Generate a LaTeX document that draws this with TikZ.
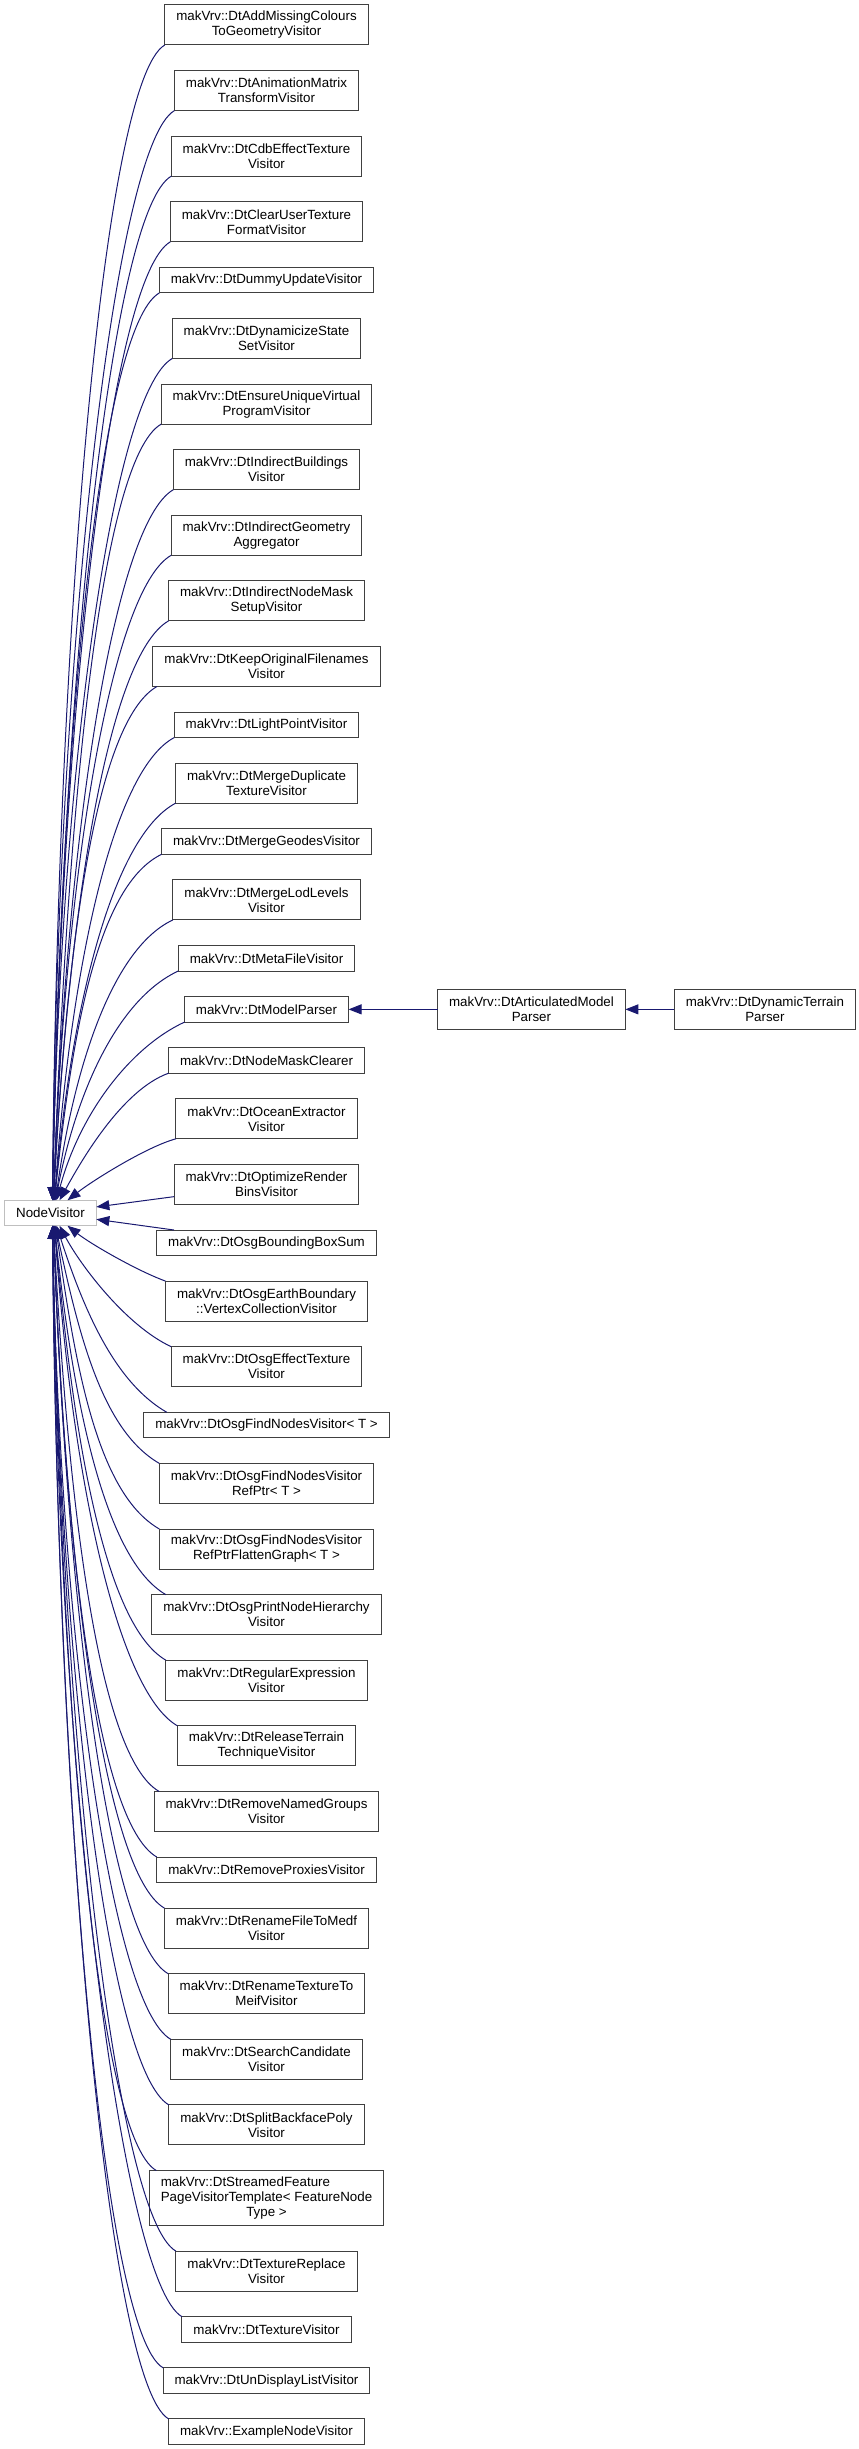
\documentclass[tikz,border=0pt]{standalone}
\usepackage{fontspec}
\setmainfont{Liberation Sans}
\usetikzlibrary{positioning,arrows.meta}
\definecolor{edgeblue}{HTML}{191970}
\definecolor{framegray}{HTML}{404040}
\definecolor{basegray}{HTML}{BFBFBF}
\begin{document}
\begin{tikzpicture}[x=1pt, y=1pt, node distance=25.6pt and 89pt]
\tikzstyle{block} = [rectangle, draw=framegray, fill=white, line width=1pt, outer sep=0pt, minimum height=25.5pt, inner xsep=11.5pt, inner ysep=2pt, align=center, font=\fontsize{13.34}{15}\selectfont]
\tikzstyle{twolines} = [minimum height=40pt]
\tikzstyle{threelines} = [minimum height=55pt]
\tikzstyle{base} = [block, draw=basegray]
\tikzstyle{arrow} = [line width=1pt, draw=edgeblue, -{Triangle[length=13pt, width=10pt]}]
\useasboundingbox (0,0) rectangle (859,-2449);
%
\node (0) [base] at (50.5,-1213) {NodeVisitor};
\node (1) [block, twolines] at (266.5,-25) {makVrv::DtAddMissingColours\\ToGeometryVisitor};
\node (2) [block, twolines, below=of 1]  {makVrv::DtAnimationMatrix\\TransformVisitor};
\node (3) [block, twolines, below=of 2]  {makVrv::DtCdbEffectTexture\\Visitor};
\node (4) [block, twolines, below=of 3]  {makVrv::DtClearUserTexture\\FormatVisitor};
\node (5) [block, below=of 4]            {makVrv::DtDummyUpdateVisitor};
\node (6) [block, twolines, below=of 5]  {makVrv::DtDynamicizeState\\SetVisitor};
\node (7) [block, twolines, below=of 6]  {makVrv::DtEnsureUniqueVirtual\\ProgramVisitor};
\node (8) [block, twolines, below=of 7]  {makVrv::DtIndirectBuildings\\Visitor};
\node (9) [block, twolines, below=of 8]  {makVrv::DtIndirectGeometry\\Aggregator};
\node (10) [block, twolines, below=of 9] {makVrv::DtIndirectNodeMask\\SetupVisitor};
\node (11) [block, twolines, below=of 10] {makVrv::DtKeepOriginalFilenames\\Visitor};
\node (12) [block, below=of 11]           {makVrv::DtLightPointVisitor};
\node (13) [block, twolines, below=of 12] {makVrv::DtMergeDuplicate\\TextureVisitor};
\node (14) [block, below=of 13]           {makVrv::DtMergeGeodesVisitor};
\node (15) [block, twolines, below=of 14] {makVrv::DtMergeLodLevels\\Visitor};
\node (16) [block, below=of 15]           {makVrv::DtMetaFileVisitor};
\node (17) [block, below=of 16]           {makVrv::DtModelParser};
\node (18) [block, below=of 17]           {makVrv::DtNodeMaskClearer};
\node (19) [block, twolines, below=of 18] {makVrv::DtOceanExtractor\\Visitor};
\node (20) [block, twolines, below=of 19] {makVrv::DtOptimizeRender\\BinsVisitor};
\node (21) [block, below=of 20]           {makVrv::DtOsgBoundingBoxSum};
\node (22) [block, twolines, below=of 21] {makVrv::DtOsgEarthBoundary\\::VertexCollectionVisitor};
\node (23) [block, twolines, below=of 22] {makVrv::DtOsgEffectTexture\\Visitor};
\node (24) [block, below=of 23]           {makVrv::DtOsgFindNodesVisitor< T >};
\node (25) [block, twolines, below=of 24] {makVrv::DtOsgFindNodesVisitor\\RefPtr< T >};
\node (26) [block, twolines, below=of 25] {makVrv::DtOsgFindNodesVisitor\\RefPtrFlattenGraph< T >};
\node (27) [block, twolines, below=of 26] {makVrv::DtOsgPrintNodeHierarchy\\Visitor};
\node (28) [block, twolines, below=of 27] {makVrv::DtRegularExpression\\Visitor};
\node (29) [block, twolines, below=of 28] {makVrv::DtReleaseTerrain\\TechniqueVisitor};
\node (30) [block, twolines, below=of 29] {makVrv::DtRemoveNamedGroups\\Visitor};
\node (31) [block, below=of 30]           {makVrv::DtRemoveProxiesVisitor};
\node (32) [block, twolines, below=of 31] {makVrv::DtRenameFileToMedf\\Visitor};
\node (33) [block, twolines, below=of 32] {makVrv::DtRenameTextureTo\\MeifVisitor};
\node (34) [block, twolines, below=of 33] {makVrv::DtSearchCandidate\\Visitor};
\node (35) [block, twolines, below=of 34] {makVrv::DtSplitBackfacePoly\\Visitor};
\node (36) [block, threelines, below=of 35] {\begin{tabular}{@{}l@{}}makVrv::DtStreamedFeature\\PageVisitorTemplate< FeatureNode\\\multicolumn{1}{@{}c@{}}{Type >}\end{tabular}};
\node (37) [block, twolines, below=of 36] {makVrv::DtTextureReplace\\Visitor};
\node (38) [block, below=of 37]           {makVrv::DtTextureVisitor};
\node (39) [block, below=of 38]           {makVrv::DtUnDisplayListVisitor};
\node (40) [block, below=of 39]           {makVrv::ExampleNodeVisitor};
\node (41) [block, twolines, right=of 17]     {makVrv::DtArticulatedModel\\Parser};
\node (42) [block, twolines, right=49pt of 41] {makVrv::DtDynamicTerrain\\Parser};
%
\draw [arrow] (1.south west) .. controls +(210:70) and +(89.5:580) .. ([xshift=2pt]0.north);
\draw [arrow] (2.south west) .. controls +(210:70) and +(89.5:545) .. ([xshift=2pt]0.north);
\draw [arrow] (3.south west) .. controls +(210:70) and +(89:510) .. ([xshift=2pt]0.north);
\draw [arrow] (4.south west) .. controls +(210:70) and +(89:480) .. ([xshift=2pt]0.north);
\draw [arrow] (5.south west) .. controls +(210:70) and +(89:450) .. ([xshift=2pt]0.north);
\draw [arrow] (6.south west) .. controls +(210:70) and +(89:420) .. ([xshift=2pt]0.north);
\draw [arrow] (7.south west) .. controls +(210:70) and +(88:390) .. ([xshift=3pt]0.north);
\draw [arrow] (8.south west) .. controls +(210:70) and +(88:355) .. ([xshift=3pt]0.north);
\draw [arrow] (9.south west) .. controls +(210:70) and +(88:320) .. ([xshift=3pt]0.north);
\draw [arrow] (10.south west) .. controls +(210:70) and +(87:290) .. ([xshift=3pt]0.north);
\draw [arrow] ([xshift=4pt]11.south west) .. controls +(210:70) and +(87:260) .. ([xshift=3pt]0.north);
\draw [arrow] (12.south west) .. controls +(208:70) and +(86:230) .. ([xshift=4pt]0.north);
\draw [arrow] (13.south west) .. controls +(208:70) and +(85:200) .. ([xshift=4pt]0.north);
\draw [arrow] (14.south west) .. controls +(206:70) and +(84:175) .. ([xshift=4pt]0.north);
\draw [arrow] (15.south west) .. controls +(205:65) and +(82:140) .. ([xshift=5pt]0.north);
\draw [arrow] (16.south west) .. controls +(205:65) and +(79:115) .. ([xshift=5pt]0.north);
\draw [arrow] (17.south west) .. controls +(205:60) and +(75:90) .. ([xshift=6pt]0.north);
\draw [arrow] (18.south west) .. controls +(200:50) and +(61:45) .. ([xshift=9pt]0.north);
\draw [arrow] (19.south west) .. controls +(195:30) and +(38:32) .. ([xshift=17pt]0.north);
\draw [arrow] (20) -- (0);
\draw [arrow] (21) -- (0);
\draw [arrow] (22.north west) .. controls +(160:30) and +(-38:30) .. ([xshift=17pt]0.south);
\draw [arrow] (23.north west) .. controls +(155:50) and +(-62:45) .. ([xshift=9pt]0.south);
\draw [arrow] ([xshift=23pt]24.north west) .. controls +(150:60) and +(-72:90) .. ([xshift=6pt]0.south);
\draw [arrow] (25.north west) .. controls +(150:65) and +(-78:115) .. ([xshift=5pt]0.south);
\draw [arrow] (26.north west) .. controls +(150:70) and +(-82:150) .. ([xshift=5pt]0.south);
\draw [arrow] ([xshift=14pt]27.north west) .. controls +(150:70) and +(-84:180) .. ([xshift=4pt]0.south);
\draw [arrow] (28.north west) .. controls +(150:70) and +(-85:215) .. ([xshift=4pt]0.south);
\draw [arrow] (29.north west) .. controls +(150:70) and +(-86:250) .. ([xshift=4pt]0.south);
\draw [arrow] ([xshift=5pt]30.north west) .. controls +(150:70) and +(-87:280) .. ([xshift=3pt]0.south);
\draw [arrow] (31.north west) .. controls +(150:70) and +(-88:315) .. ([xshift=3pt]0.south);
\draw [arrow] (32.north west) .. controls +(150:70) and +(-88:340) .. ([xshift=3pt]0.south);
\draw [arrow] (33.north west) .. controls +(150:70) and +(-88:370) .. ([xshift=3pt]0.south);
\draw [arrow] (34.north west) .. controls +(150:70) and +(-89:400) .. ([xshift=2pt]0.south);
\draw [arrow] (35.north west) .. controls +(150:70) and +(-89:440) .. ([xshift=2pt]0.south);
\draw [arrow] ([xshift=7pt]36.north west) .. controls +(150:70) and +(-89:470) .. ([xshift=2pt]0.south);
\draw [arrow] (37.north west) .. controls +(150:70) and +(-89:510) .. ([xshift=2pt]0.south);
\draw [arrow] (38.north west) .. controls +(150:70) and +(-89.5:545) .. ([xshift=2pt]0.south);
\draw [arrow] (39.north west) .. controls +(150:70) and +(-89.5:570) .. ([xshift=2pt]0.south);
\draw [arrow] (40.north west) .. controls +(150:70) and +(-89.5:595) .. ([xshift=2pt]0.south);
\draw [arrow] (41) -- (17);
\draw [arrow] (42) -- (41);
\end{tikzpicture}
\end{document}
